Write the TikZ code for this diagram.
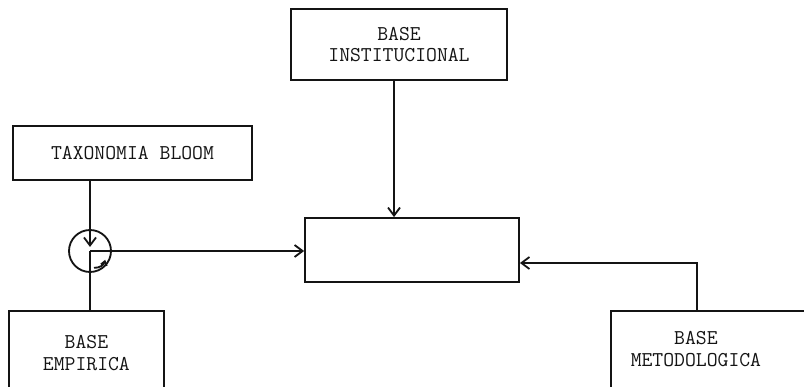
\documentclass[tikz,border=0pt]{standalone}
\usepackage{fontspec}
\usetikzlibrary{arrows.meta,positioning,calc}
\definecolor{Ink}{RGB}{20,20,20}
\tikzset{
  >=Latex,
  box/.style={draw=Ink,line width=1.3pt,fill=white,align=center,text=Ink,font=\ttfamily\fontsize{15}{15.5}\selectfont,inner sep=0pt},
  junction/.style={circle,draw=Ink,line width=1.3pt,minimum size=1.05cm,inner sep=0pt},
  flow/.style={-{Straight Barb[length=2mm,width=3mm]},line width=1.3pt,draw=Ink},
  link/.style={line width=1.3pt,draw=Ink}
}
\begin{document}
\begin{tikzpicture}[x=1cm,y=1cm]
  \useasboundingbox[fill=white] (0,0) rectangle (20.1,9.675);
  \node[box,minimum width=5.4cm,minimum height=1.775cm] (inst) at (9.975,8.5625) {BASE\\INSTITUCIONAL};
  \node[box,minimum width=5.975cm,minimum height=1.35cm] (tax) at (3.3125,5.85) {TAXONOMIA BLOOM};
  \node[box,minimum width=5.35cm,minimum height=1.6cm] (cent) at (10.3,3.425) {};
  \node[junction] (circ) at (2.25,3.4) {};
  \node[box,anchor=north west,minimum width=3.875cm,minimum height=2.1cm] (emp) at (0.2,1.925) {BASE\\EMPIRICA};
  \node[box,anchor=north west,minimum width=5.4cm,minimum height=2cm] (met) at (15.25,1.925) {\begin{tabular}{@{}c@{}}BASE\\METODOLOGICA\end{tabular}\hspace{1.15cm}};
  \coordinate (metup) at ($(met.north west)+(2.175,0)$);
  % connectors
  \draw[flow] ([xshift=-1.25mm]inst.south) -- ([xshift=-1.25mm]inst.south |- cent.north);
  \draw[flow] (circ |- tax.south) -- ([yshift=1mm]circ.center);
  \draw[link] (circ.center) -- (circ |- emp.north);
  \draw[flow] (circ.center) -- (circ.center -| cent.west);
  \draw[flow] (metup) |- ([yshift=-3.25mm]cent.east);
  \draw[link,->,>={Straight Barb[length=1mm,width=1.5mm]}] ([shift={(0.1,-0.42)}]circ.center) to[bend right=40] ([shift={(0.38,-0.22)}]circ.center);
\end{tikzpicture}
\end{document}
